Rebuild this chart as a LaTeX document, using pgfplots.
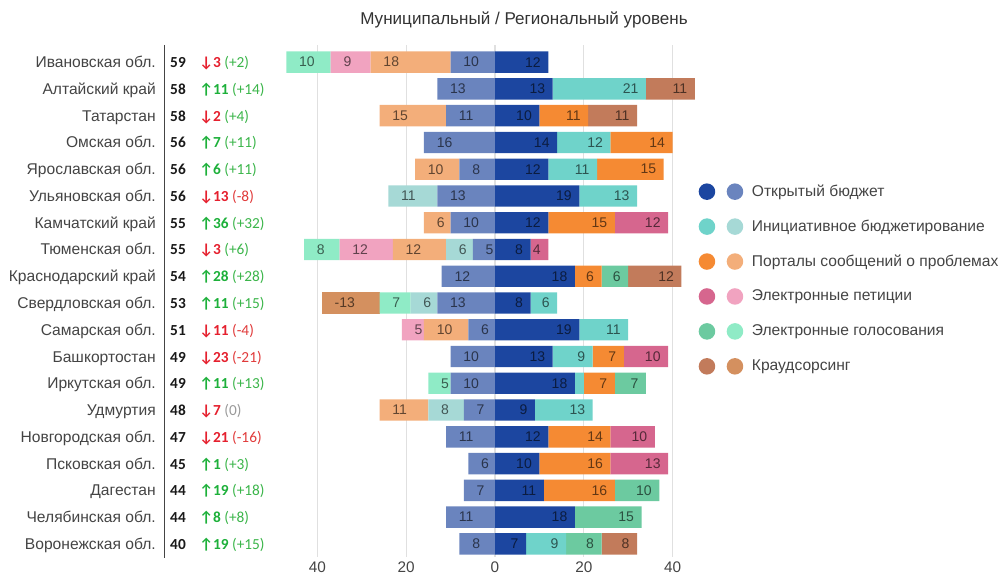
\documentclass[border=0pt]{standalone}
\usepackage{pgfplots}
\pgfplotsset{compat=1.18}
\usepackage{fontspec}
\setmainfont{Liberation Sans}
\newfontfamily\carlito{Carlito}
\definecolor{OBd}{HTML}{1C46A0}\definecolor{OBl}{HTML}{6A84BE}
\definecolor{INd}{HTML}{6FD3CA}\definecolor{INl}{HTML}{A6D9D6}
\definecolor{POd}{HTML}{F58A33}\definecolor{POl}{HTML}{F3AE7A}
\definecolor{PEd}{HTML}{D6668E}\definecolor{PEl}{HTML}{F1A3C0}
\definecolor{VOd}{HTML}{6CCAA0}\definecolor{VOl}{HTML}{8FEBC6}
\definecolor{CRd}{HTML}{C27B5B}\definecolor{CRl}{HTML}{D4905F}
\definecolor{txt}{HTML}{444444}
\definecolor{upc}{HTML}{1DB03A}\definecolor{dnc}{HTML}{E5202E}
\definecolor{upp}{HTML}{3BB54A}\definecolor{dnp}{HTML}{E03A3A}\definecolor{nup}{HTML}{999999}
\begin{document}
\begin{tikzpicture}
\useasboundingbox (0,0) rectangle (750pt,432pt);
\pgfplotsset{
  base/.style={
    scale only axis, width=333pt, height=384pt,
    at={(204.75pt,14.25pt)}, anchor=south west,
    xmin=-50, xmax=50, ymin=-0.64, ymax=18.49, y dir=reverse,
    xbar stacked, bar width=16pt,
    axis line style={draw=none}, major tick length=0pt,
    ytick=\empty,
    point meta=explicit symbolic,
    every axis plot/.append style={visualization depends on=rawx \as \rx},
    nodes near coords={\pgfplotspointmeta},
    every node near coord/.append style={font=\fontsize{10.5}{12}\selectfont, text=black, text opacity=0.6, inner sep=0pt},
  },
}
% ---------- left (municipal) stack ----------
\begin{axis}[base,
  xtick={-40,-20,0,20,40}, xticklabels={40,20,0,20,40},
  xticklabel style={font=\fontsize{11.5}{13}\selectfont, text=txt},
  xmajorgrids, grid style={draw=black!12, line width=0.8pt},
  every node near coord/.append style={anchor=west, xshift={\rx*1.665pt+9.4pt}},
]
\addplot[fill=OBl, draw=none] coordinates {(-10,0)[10] (-13,1)[13] (-11,2)[11] (-16,3)[16] (-8,4)[8] (-13,5)[13] (-10,6)[10] (-5,7)[5] (-12,8)[12] (-13,9)[13] (-6,10)[6] (-10,11)[10] (-10,12)[10] (-7,13)[7] (-11,14)[11] (-6,15)[6] (-7,16)[7] (-11,17)[11] (-8,18)[8]};
\addplot[fill=INl, draw=none] coordinates {(0,0)[] (0,1)[] (0,2)[] (0,3)[] (0,4)[] (-11,5)[11] (0,6)[] (-6,7)[6] (0,8)[] (-6,9)[6] (0,10)[] (0,11)[] (0,12)[] (-8,13)[8] (0,14)[] (0,15)[] (0,16)[] (0,17)[] (0,18)[]};
\addplot[fill=POl, draw=none] coordinates {(-18,0)[18] (0,1)[] (-15,2)[15] (0,3)[] (-10,4)[10] (0,5)[] (-6,6)[6] (-12,7)[12] (0,8)[] (0,9)[] (-10,10)[10] (0,11)[] (0,12)[] (-11,13)[11] (0,14)[] (0,15)[] (0,16)[] (0,17)[] (0,18)[]};
\addplot[fill=PEl, draw=none] coordinates {(-9,0)[9] (0,1)[] (0,2)[] (0,3)[] (0,4)[] (0,5)[] (0,6)[] (-12,7)[12] (0,8)[] (0,9)[] (-5,10)[5] (0,11)[] (0,12)[] (0,13)[] (0,14)[] (0,15)[] (0,16)[] (0,17)[] (0,18)[]};
\addplot[fill=VOl, draw=none] coordinates {(-10,0)[10] (0,1)[] (0,2)[] (0,3)[] (0,4)[] (0,5)[] (0,6)[] (-8,7)[8] (0,8)[] (-7,9)[7] (0,10)[] (0,11)[] (-5,12)[5] (0,13)[] (0,14)[] (0,15)[] (0,16)[] (0,17)[] (0,18)[]};
\addplot[fill=CRl, draw=none] coordinates {(0,0)[] (0,1)[] (0,2)[] (0,3)[] (0,4)[] (0,5)[] (0,6)[] (0,7)[] (0,8)[] (-13,9)[-13] (0,10)[] (0,11)[] (0,12)[] (0,13)[] (0,14)[] (0,15)[] (0,16)[] (0,17)[] (0,18)[]};
\end{axis}
% ---------- right (regional) stack ----------
\begin{axis}[base,
  xtick=\empty,
  every node near coord/.append style={anchor=east, xshift={\rx*1.665pt-5.5pt}},
  legend style={at={(0.9588,0.7297)}, anchor=north west, draw=none, fill=none,
    inner sep=0pt, outer sep=0pt, row sep=13.8pt, column sep=6.5pt,
    nodes={inner sep=0pt, text=txt, font=\fontsize{11.7}{13}\selectfont}},
  legend cell align=left,
]
\addplot[fill=OBd, draw=none, legend image code/.code={\fill[OBd] (6.2pt,0pt) circle[radius=6.2pt]; \fill[OBl] (27.2pt,0pt) circle[radius=6.2pt];}] coordinates {(12,0)[12] (13,1)[13] (10,2)[10] (14,3)[14] (12,4)[12] (19,5)[19] (12,6)[12] (8,7)[8] (18,8)[18] (8,9)[8] (19,10)[19] (13,11)[13] (18,12)[18] (9,13)[9] (12,14)[12] (10,15)[10] (11,16)[11] (18,17)[18] (7,18)[7]};
\addlegendentry{Открытый бюджет}
\addplot[fill=INd, draw=none, legend image code/.code={\fill[INd] (6.2pt,0pt) circle[radius=6.2pt]; \fill[INl] (27.2pt,0pt) circle[radius=6.2pt];}] coordinates {(0,0)[] (21,1)[21] (0,2)[] (12,3)[12] (11,4)[11] (13,5)[13] (0,6)[] (0,7)[] (0,8)[] (6,9)[6] (11,10)[11] (9,11)[9] (2,12)[] (13,13)[13] (0,14)[] (0,15)[] (0,16)[] (0,17)[] (9,18)[9]};
\addlegendentry{Инициативное бюджетирование}
\addplot[fill=POd, draw=none, legend image code/.code={\fill[POd] (6.2pt,0pt) circle[radius=6.2pt]; \fill[POl] (27.2pt,0pt) circle[radius=6.2pt];}] coordinates {(0,0)[] (0,1)[] (11,2)[11] (14,3)[14] (15,4)[15] (0,5)[] (15,6)[15] (0,7)[] (6,8)[6] (0,9)[] (0,10)[] (7,11)[7] (7,12)[7] (0,13)[] (14,14)[14] (16,15)[16] (16,16)[16] (0,17)[] (0,18)[]};
\addlegendentry{Порталы сообщений о проблемах}
\addplot[fill=PEd, draw=none, legend image code/.code={\fill[PEd] (6.2pt,0pt) circle[radius=6.2pt]; \fill[PEl] (27.2pt,0pt) circle[radius=6.2pt];}] coordinates {(0,0)[] (0,1)[] (0,2)[] (0,3)[] (0,4)[] (0,5)[] (12,6)[12] (4,7)[4] (0,8)[] (0,9)[] (0,10)[] (10,11)[10] (0,12)[] (0,13)[] (10,14)[10] (13,15)[13] (0,16)[] (0,17)[] (0,18)[]};
\addlegendentry{Электронные петиции}
\addplot[fill=VOd, draw=none, legend image code/.code={\fill[VOd] (6.2pt,0pt) circle[radius=6.2pt]; \fill[VOl] (27.2pt,0pt) circle[radius=6.2pt];}] coordinates {(0,0)[] (0,1)[] (0,2)[] (0,3)[] (0,4)[] (0,5)[] (0,6)[] (0,7)[] (6,8)[6] (0,9)[] (0,10)[] (0,11)[] (7,12)[7] (0,13)[] (0,14)[] (0,15)[] (10,16)[10] (15,17)[15] (8,18)[8]};
\addlegendentry{Электронные голосования}
\addplot[fill=CRd, draw=none, legend image code/.code={\fill[CRd] (6.2pt,0pt) circle[radius=6.2pt]; \fill[CRl] (27.2pt,0pt) circle[radius=6.2pt];}] coordinates {(0,0)[] (11,1)[11] (11,2)[11] (0,3)[] (0,4)[] (0,5)[] (0,6)[] (0,7)[] (12,8)[12] (0,9)[] (0,10)[] (0,11)[] (0,12)[] (0,13)[] (0,14)[] (0,15)[] (0,16)[] (0,17)[] (8,18)[8]};
\addlegendentry{Краудсорсинг}
\end{axis}
% ---------- title ----------
\node[anchor=base, inner sep=0pt, text=black!80, font=\fontsize{12.8}{14}\selectfont] at (393pt,413.4pt) {Муниципальный / Региональный уровень};
% ---------- separator ----------
\draw[color=txt, line width=1.1pt] (123.5pt,398.25pt) -- (123.5pt,13.5pt);
% ---------- left labels ----------
\foreach \nm/\sc/\cc/\ch/\pa/\pc [count=\i from 0] in {
 Ивановская обл./59/dnc/↓3/(+2)/upp,
 Алтайский край/58/upc/↑11/(+14)/upp,
 Татарстан/58/dnc/↓2/(+4)/upp,
 Омская обл./56/upc/↑7/(+11)/upp,
 Ярославская обл./56/upc/↑6/(+11)/upp,
 Ульяновская обл./56/dnc/↓13/(-8)/dnp,
 Камчатский край/55/upc/↑36/(+32)/upp,
 Тюменская обл./55/dnc/↓3/(+6)/upp,
 Краснодарский край/54/upc/↑28/(+28)/upp,
 Свердловская обл./53/upc/↑11/(+15)/upp,
 Самарская обл./51/dnc/↓11/(-4)/dnp,
 Башкортостан/49/dnc/↓23/(-21)/dnp,
 Иркутская обл./49/upc/↑11/(+13)/upp,
 Удмуртия/48/dnc/↓7/(0)/nup,
 Новгородская обл./47/dnc/↓21/(-16)/dnp,
 Псковская обл./45/upc/↑1/(+3)/upp,
 Дагестан/44/upc/↑19/(+18)/upp,
 Челябинская обл./44/upc/↑8/(+8)/upp,
 Воронежская обл./40/upc/↑19/(+15)/upp}{
  \pgfmathsetmacro\yy{385.4-20.073*\i-4.1}
  \node[anchor=base east, inner sep=0pt, text=txt, font=\fontsize{11.7}{13}\selectfont] at (117pt,\yy pt) {\nm};
  \node[anchor=base, inner sep=0pt, text=black!90, font=\carlito\bfseries\fontsize{11.5}{13}\selectfont] at (133.5pt,\yy pt) {\sc};
  \node[anchor=base west, inner sep=0pt, font=\carlito\fontsize{11.5}{13}\selectfont] at (149.25pt,\yy pt) {\textcolor{\cc}{\bfseries\ch}\ \textcolor{\pc}{\pa}};
}
\end{tikzpicture}
\end{document}
